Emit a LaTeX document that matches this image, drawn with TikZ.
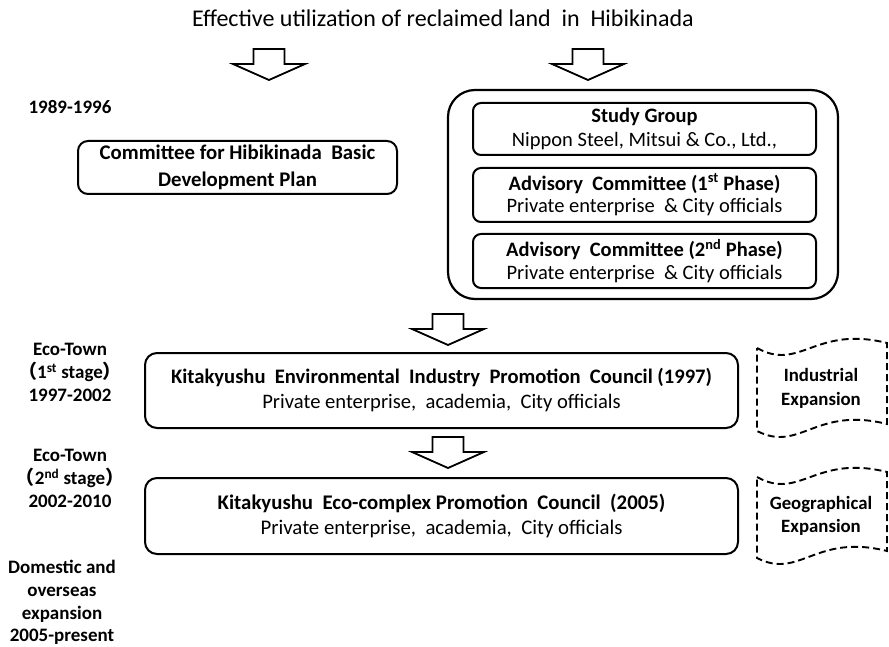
\documentclass[tikz,border=0pt]{standalone}
\usepackage{fontspec}
\setmainfont{Carlito}
\newfontfamily\cjkfont{Noto Sans CJK JP}
\begin{document}
\begin{tikzpicture}[x=1pt,y=-1pt,
  box/.style={draw, line width=2pt, rounded corners=9pt, inner sep=0pt, align=center},
  outerbox/.style={draw, line width=2.2pt, rounded corners=27pt, inner sep=0pt},
  period/.style={font=\fontsize{19}{22.7}\selectfont\bfseries, align=center, inner sep=0pt},
  wavetext/.style={font=\fontsize{18.8}{23.5}\selectfont\bfseries, align=center, inner sep=0pt},
  wave/.style={draw, line width=1.9pt, dash pattern=on 7pt off 4pt},
  hollowdown/.pic={\draw[line width=1.8pt, line join=miter, fill=white]
    (-15.5,0) -- (15.5,0) -- (15.5,15) -- (36,15) -- (0,31) -- (-36,15) -- (-15.5,15) -- cycle;}
]
\useasboundingbox (0,0) rectangle (889,647);

% heading
\node[font=\fontsize{24}{28}\selectfont, inner sep=0pt] (title) at (443,18)
  {Effective utilization of reclaimed land~ in~ Hibikinada};

% block arrows from the heading
\pic at (269,49) {hollowdown};
\pic at (588,49) {hollowdown};

% period labels
\node[period] (p1) at (70,107) {1989-1996};
\node[period] (p2) at (70,372.5) {Eco-Town\\{\cjkfont（}1\textsuperscript{st} stage{\cjkfont）}\\1997-2002};
\node[period] (p3) at (70,478.5) {Eco-Town\\{\cjkfont（}2\textsuperscript{nd} stage{\cjkfont）}\\2002-2010};
\node[period] (p4) at (62,602.5) {Domestic and\\overseas\\expansion\\2005-present};

% basic plan committee
\node[box, rounded corners=10pt, minimum width=319pt, minimum height=53pt,
  font=\fontsize{20.8}{26.5}\selectfont\bfseries] (plan) at (237.5,167.5)
  {Committee for Hibikinada~ Basic\\Development Plan};

% study group and advisory committees
\node[outerbox, minimum width=390pt, minimum height=209pt] (group) at (643,194.5) {};
\node[box, rounded corners=8pt, minimum width=343pt, minimum height=52pt,
  font=\fontsize{20.5}{24}\selectfont] (sg) at (644.5,129)
  {{\bfseries Study Group}\\Nippon Steel, Mitsui \& Co., Ltd.,};
\node[box, rounded corners=8pt, minimum width=343pt, minimum height=54pt,
  font=\fontsize{20.5}{22.5}\selectfont] (ac1) at (644.5,195)
  {{\bfseries Advisory~ Committee (1\textsuperscript{st} Phase)}\\Private enterprise~ \& City officials};
\node[box, rounded corners=8pt, minimum width=343pt, minimum height=54pt,
  font=\fontsize{20.5}{23}\selectfont] (ac2) at (644.5,261)
  {{\bfseries Advisory~ Committee (2\textsuperscript{nd} Phase)}\\Private enterprise~ \& City officials};

\pic at (448,314) {hollowdown};

% promotion councils
\node[box, rounded corners=12pt, minimum width=593pt, minimum height=75pt,
  font=\fontsize{20.6}{25}\selectfont] (kei) at (441.5,390.5)
  {{\bfseries Kitakyushu~ Environmental~ Industry~ Promotion~ Council (1997)}\\Private enterprise,~ academia,~ City officials};

\pic at (448,437) {hollowdown};

\node[box, rounded corners=12pt, minimum width=593pt, minimum height=76pt,
  font=\fontsize{20.8}{25}\selectfont] (kec) at (441.5,516)
  {{\bfseries Kitakyushu~ Eco-complex Promotion~ Council~ (2005)}\\Private enterprise,~ academia,~ City officials};

% expansion banners
\draw[wave] (757,348) .. controls (800,372) and (815,325) .. (887,343)
  -- (887,424) .. controls (815,406) and (800,453) .. (757,431) -- cycle;
\node[wavetext] (ind) at (821,388.5) {Industrial\\Expansion};

\draw[wave] (757,477) .. controls (800,501) and (815,454) .. (887,472)
  -- (887,551) .. controls (815,533) and (800,580) .. (757,558) -- cycle;
\node[wavetext] (geo) at (821,516) {Geographical\\Expansion};
\end{tikzpicture}
\end{document}
